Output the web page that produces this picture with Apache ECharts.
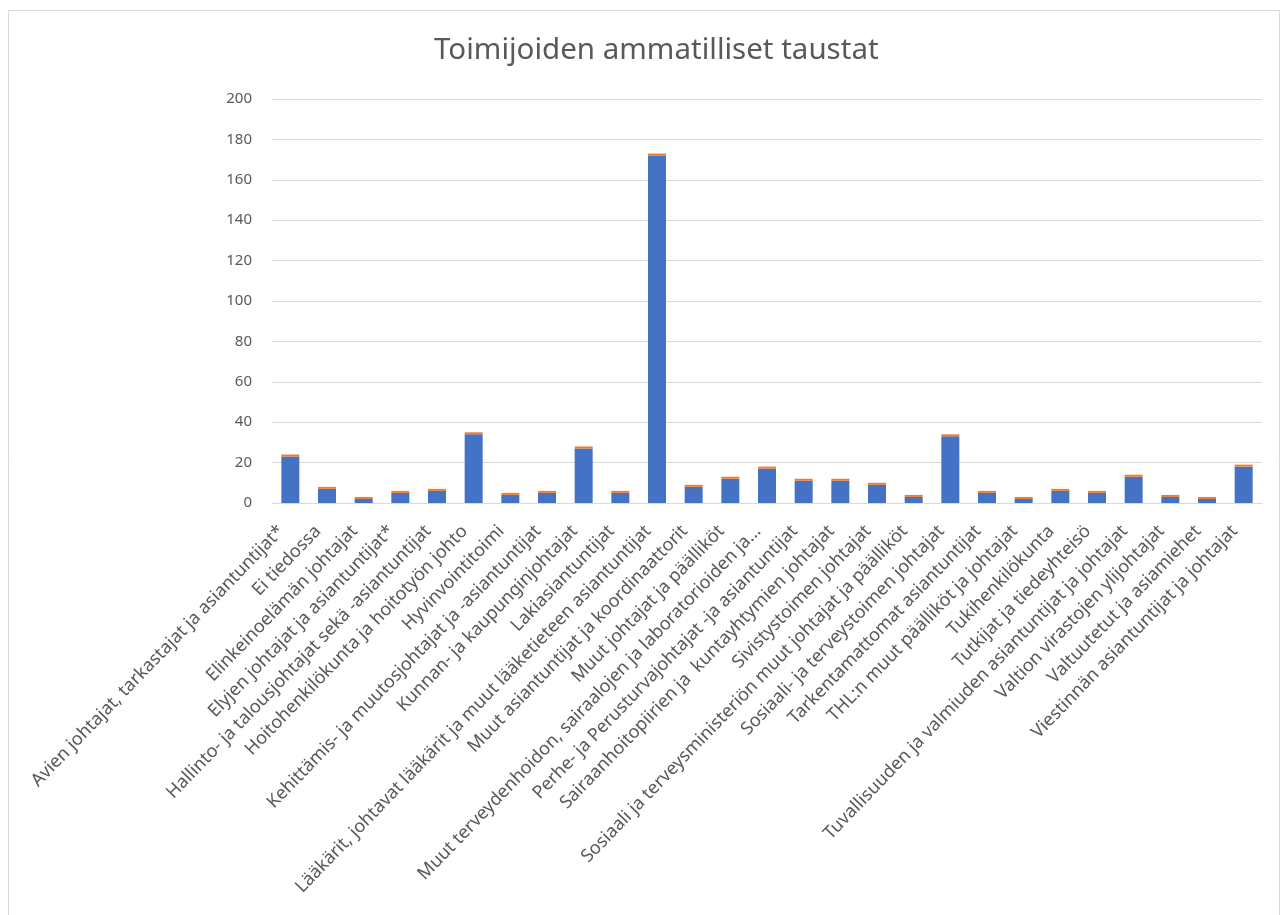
<!DOCTYPE html>
<html>
<head>
<meta charset="utf-8">
<title>Toimijoiden ammatilliset taustat</title>
<script src="https://cdn.jsdelivr.net/npm/echarts@6/dist/echarts.min.js"></script>
<style>
  html, body { margin: 0; padding: 0; background: #ffffff; }
  #chart { width: 1288px; height: 915px; }
</style>
</head>
<body>
<div id="chart"></div>
<script>
// Professional background categories
const categories = [
  'Avien johtajat, tarkastajat ja asiantuntijat*',
  'Ei tiedossa',
  'Elinkeinoelämän johtajat',
  'Elyjen johtajat ja asiantuntijat*',
  'Hallinto- ja talousjohtajat sekä -asiantuntijat',
  'Hoitohenkilökunta ja hoitotyön johto',
  'Hyvinvointitoimi',
  'Kehittämis- ja muutosjohtajat ja -asiantuntijat',
  'Kunnan- ja kaupunginjohtajat',
  'Lakiasiantuntijat',
  'Lääkärit, johtavat lääkärit ja muut lääketieteen asiantuntijat',
  'Muut asiantuntijat ja koordinaattorit',
  'Muut johtajat ja päälliköt',
  'Muut terveydenhoidon, sairaalojen ja laboratorioiden ja...',
  'Perhe- ja Perusturvajohtajat -ja asiantuntijat',
  'Sairaanhoitopiirien ja  kuntayhtymien johtajat',
  'Sivistystoimen johtajat',
  'Sosiaali ja terveysministeriön muut johtajat ja päälliköt',
  'Sosiaali- ja terveystoimen johtajat',
  'Tarkentamattomat asiantuntijat',
  'THL:n muut päälliköt ja johtajat',
  'Tukihenkilökunta',
  'Tutkijat ja tiedeyhteisö',
  'Tuvallisuuden ja valmiuden asiantuntijat ja johtajat',
  'Valtion virastojen ylijohtajat',
  'Valtuutetut ja asiamiehet',
  'Viestinnän asiantuntijat ja johtajat'
];

// Stacked series: main count (blue) and the thin top segment (orange)
const seriesMain = [23, 7, 2, 5, 6, 34, 4, 5, 27, 5, 172, 8, 12, 17, 11, 11, 9, 3, 33, 5, 2, 6, 5, 13, 3, 2, 18];
const seriesTop  = [1, 1, 1, 1, 1, 1, 1, 1, 1, 1, 1, 1, 1, 1, 1, 1, 1, 1, 1, 1, 1, 1, 1, 1, 1, 1, 1];

const yTicks = { min: 0, max: 200, interval: 20 };

const FONT = '"Noto Sans", "Open Sans", sans-serif';
const TEXT = '#595959';

const chart = echarts.init(document.getElementById('chart'), null, { renderer: 'canvas' });

chart.setOption({
  backgroundColor: '#ffffff',
  animation: false,
  title: {
    text: 'Toimijoiden ammatilliset taustat',
    left: 429,
    top: 31,
    textStyle: { fontFamily: FONT, fontSize: 29.5, fontWeight: 'normal', color: TEXT }
  },
  graphic: [{
    type: 'rect',
    shape: { x: 8.5, y: 10.5, width: 1271, height: 920 },
    style: { fill: null, stroke: '#d9d9d9', lineWidth: 1 },
    silent: true
  }],
  grid: { left: 272, right: 26, top: 99, bottom: 412, containLabel: false },
  xAxis: {
    type: 'category',
    data: categories,
    axisLine: { show: true, lineStyle: { color: '#d9d9d9', width: 1 } },
    axisTick: { show: false },
    axisLabel: {
      interval: 0,
      rotate: 46,
      margin: 16,
      padding: [0, 13, 0, 0],
      fontFamily: FONT,
      fontSize: 18,
      color: TEXT
    }
  },
  yAxis: {
    type: 'value',
    min: yTicks.min,
    max: yTicks.max,
    interval: yTicks.interval,
    axisLine: { show: false },
    axisTick: { show: false },
    axisLabel: { margin: 20, fontFamily: FONT, fontSize: 15, color: TEXT },
    splitLine: { lineStyle: { color: '#d9d9d9', width: 1 } }
  },
  series: [
    {
      name: 'Määrä',
      type: 'bar',
      stack: 'total',
      data: seriesMain,
      barWidth: 18,
      itemStyle: { color: '#4472C4' }
    },
    {
      name: 'Muu',
      type: 'bar',
      stack: 'total',
      data: seriesTop,
      barWidth: 18,
      itemStyle: { color: '#ED7D31' }
    }
  ]
});
</script>
</body>
</html>
